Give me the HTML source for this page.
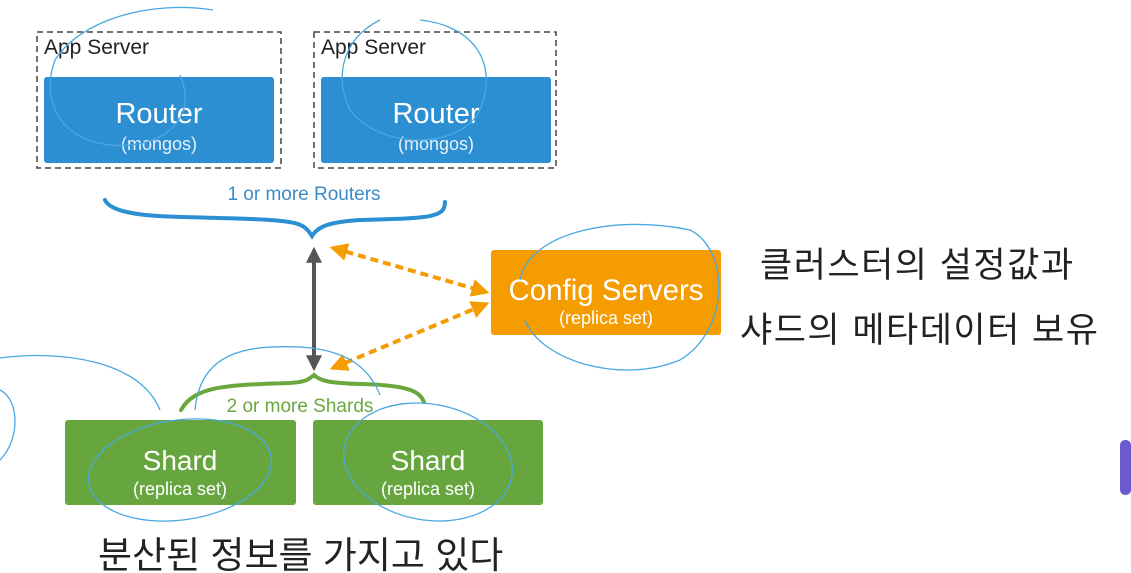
<!DOCTYPE html>
<html><head><meta charset="utf-8"><style>
html,body{margin:0;padding:0;background:#fff;}
svg{display:block;}
text{font-family:"Liberation Sans","Noto Sans CJK KR",sans-serif;}
</style></head><body>
<svg width="1131" height="573" viewBox="0 0 1131 573" xmlns="http://www.w3.org/2000/svg">
<defs>
<marker id="ga" viewBox="0 0 10 10" refX="8" refY="5" markerWidth="4" markerHeight="4" orient="auto-start-reverse"><path d="M0,0 L10,5 L0,10 z" fill="#555"/></marker>
<marker id="oa" viewBox="0 0 10 10" refX="8" refY="5" markerWidth="4.5" markerHeight="4.5" orient="auto-start-reverse"><path d="M0,0 L10,5 L0,10 z" fill="#f59c00"/></marker>
</defs>
<rect x="37" y="32" width="244" height="136" fill="none" stroke="#444" stroke-width="1.5" stroke-dasharray="6,4"/>
<rect x="314" y="32" width="242" height="136" fill="none" stroke="#444" stroke-width="1.5" stroke-dasharray="6,4"/>
<text x="44" y="54" font-size="21" fill="#222">App Server</text>
<text x="321" y="54" font-size="21" fill="#222">App Server</text>
<rect x="44" y="77" width="230" height="86" rx="3" fill="#2b8fd2"/>
<rect x="321" y="77" width="230" height="86" rx="3" fill="#2b8fd2"/>
<text x="159" y="123" font-size="29" fill="#fff" text-anchor="middle">Router</text>
<text x="159" y="150" font-size="18" fill="#e6f1fa" text-anchor="middle">(mongos)</text>
<text x="436" y="123" font-size="29" fill="#fff" text-anchor="middle">Router</text>
<text x="436" y="150" font-size="18" fill="#e6f1fa" text-anchor="middle">(mongos)</text>
<text x="304" y="200" font-size="19" fill="#3a8cc8" text-anchor="middle">1 or more Routers</text>
<path d="M105,200 C115,222 200,215 270,220 C300,222 305,225 312,236 C318,226 330,222 360,220 C430,218 445,218 445,202" fill="none" stroke="#2b8fd2" stroke-width="4" stroke-linecap="round"/>
<line x1="314" y1="250" x2="314" y2="368" stroke="#555" stroke-width="4" marker-start="url(#ga)" marker-end="url(#ga)"/>
<line x1="333" y1="248" x2="486" y2="292" stroke="#f59c00" stroke-width="4" stroke-dasharray="8,5" marker-start="url(#oa)" marker-end="url(#oa)"/>
<line x1="333" y1="368" x2="486" y2="304" stroke="#f59c00" stroke-width="4" stroke-dasharray="8,5" marker-start="url(#oa)" marker-end="url(#oa)"/>
<rect x="491" y="250" width="230" height="85" rx="3" fill="#f59c00"/>
<text x="606" y="300" font-size="29.5" fill="#fff" text-anchor="middle">Config Servers</text>
<text x="606" y="324" font-size="18" fill="#fff" text-anchor="middle">(replica set)</text>
<path d="M181,410 C195,385 230,385 290,383 C305,382 308,380 314,375 C320,381 330,383 360,384 C410,385 420,392 424,402" fill="none" stroke="#6aa83e" stroke-width="4" stroke-linecap="round"/>
<text x="300" y="412" font-size="19" fill="#6aa83e" text-anchor="middle">2 or more Shards</text>
<rect x="65" y="420" width="231" height="85" rx="3" fill="#67a63e"/>
<rect x="313" y="420" width="230" height="85" rx="3" fill="#67a63e"/>
<text x="180" y="470" font-size="28" fill="#fff" text-anchor="middle">Shard</text>
<text x="180" y="495" font-size="18" fill="#fff" text-anchor="middle">(replica set)</text>
<text x="428" y="470" font-size="28" fill="#fff" text-anchor="middle">Shard</text>
<text x="428" y="495" font-size="18" fill="#fff" text-anchor="middle">(replica set)</text>
<text x="760" y="277" font-size="35" letter-spacing="1.5" fill="#222">클러스터의 설정값과</text>
<text x="740" y="342" font-size="35" letter-spacing="1.5" fill="#222">샤드의 메타데이터 보유</text>
<text x="98" y="568" font-size="37" fill="#222">분산된 정보를 가지고 있다</text>
<g fill="none" stroke="#4aa8e0" stroke-width="1.3">
<path d="M213,10 C150,0 80,20 55,60 C40,100 60,140 110,145 C160,150 200,120 180,75"/>
<path d="M380,20 C340,40 335,80 350,110 C380,150 460,150 480,110 C500,60 470,25 420,20"/>
<path d="M520,280 C530,230 620,215 690,230 C730,250 730,330 680,360 C620,385 540,360 525,320"/>
<ellipse cx="180" cy="470" rx="92" ry="50" transform="rotate(-8 180 470)"/>
<ellipse cx="428" cy="462" rx="85" ry="58" transform="rotate(10 428 462)"/>
<path d="M0,358 C60,350 140,360 160,410"/>
<path d="M0,390 C20,400 20,440 0,460"/>
<path d="M195,410 C200,350 250,345 300,347 C350,350 370,370 380,395"/>
</g>
<rect x="1120" y="440" width="11" height="55" rx="5" fill="#6a5acd"/>
</svg>
</body></html>
